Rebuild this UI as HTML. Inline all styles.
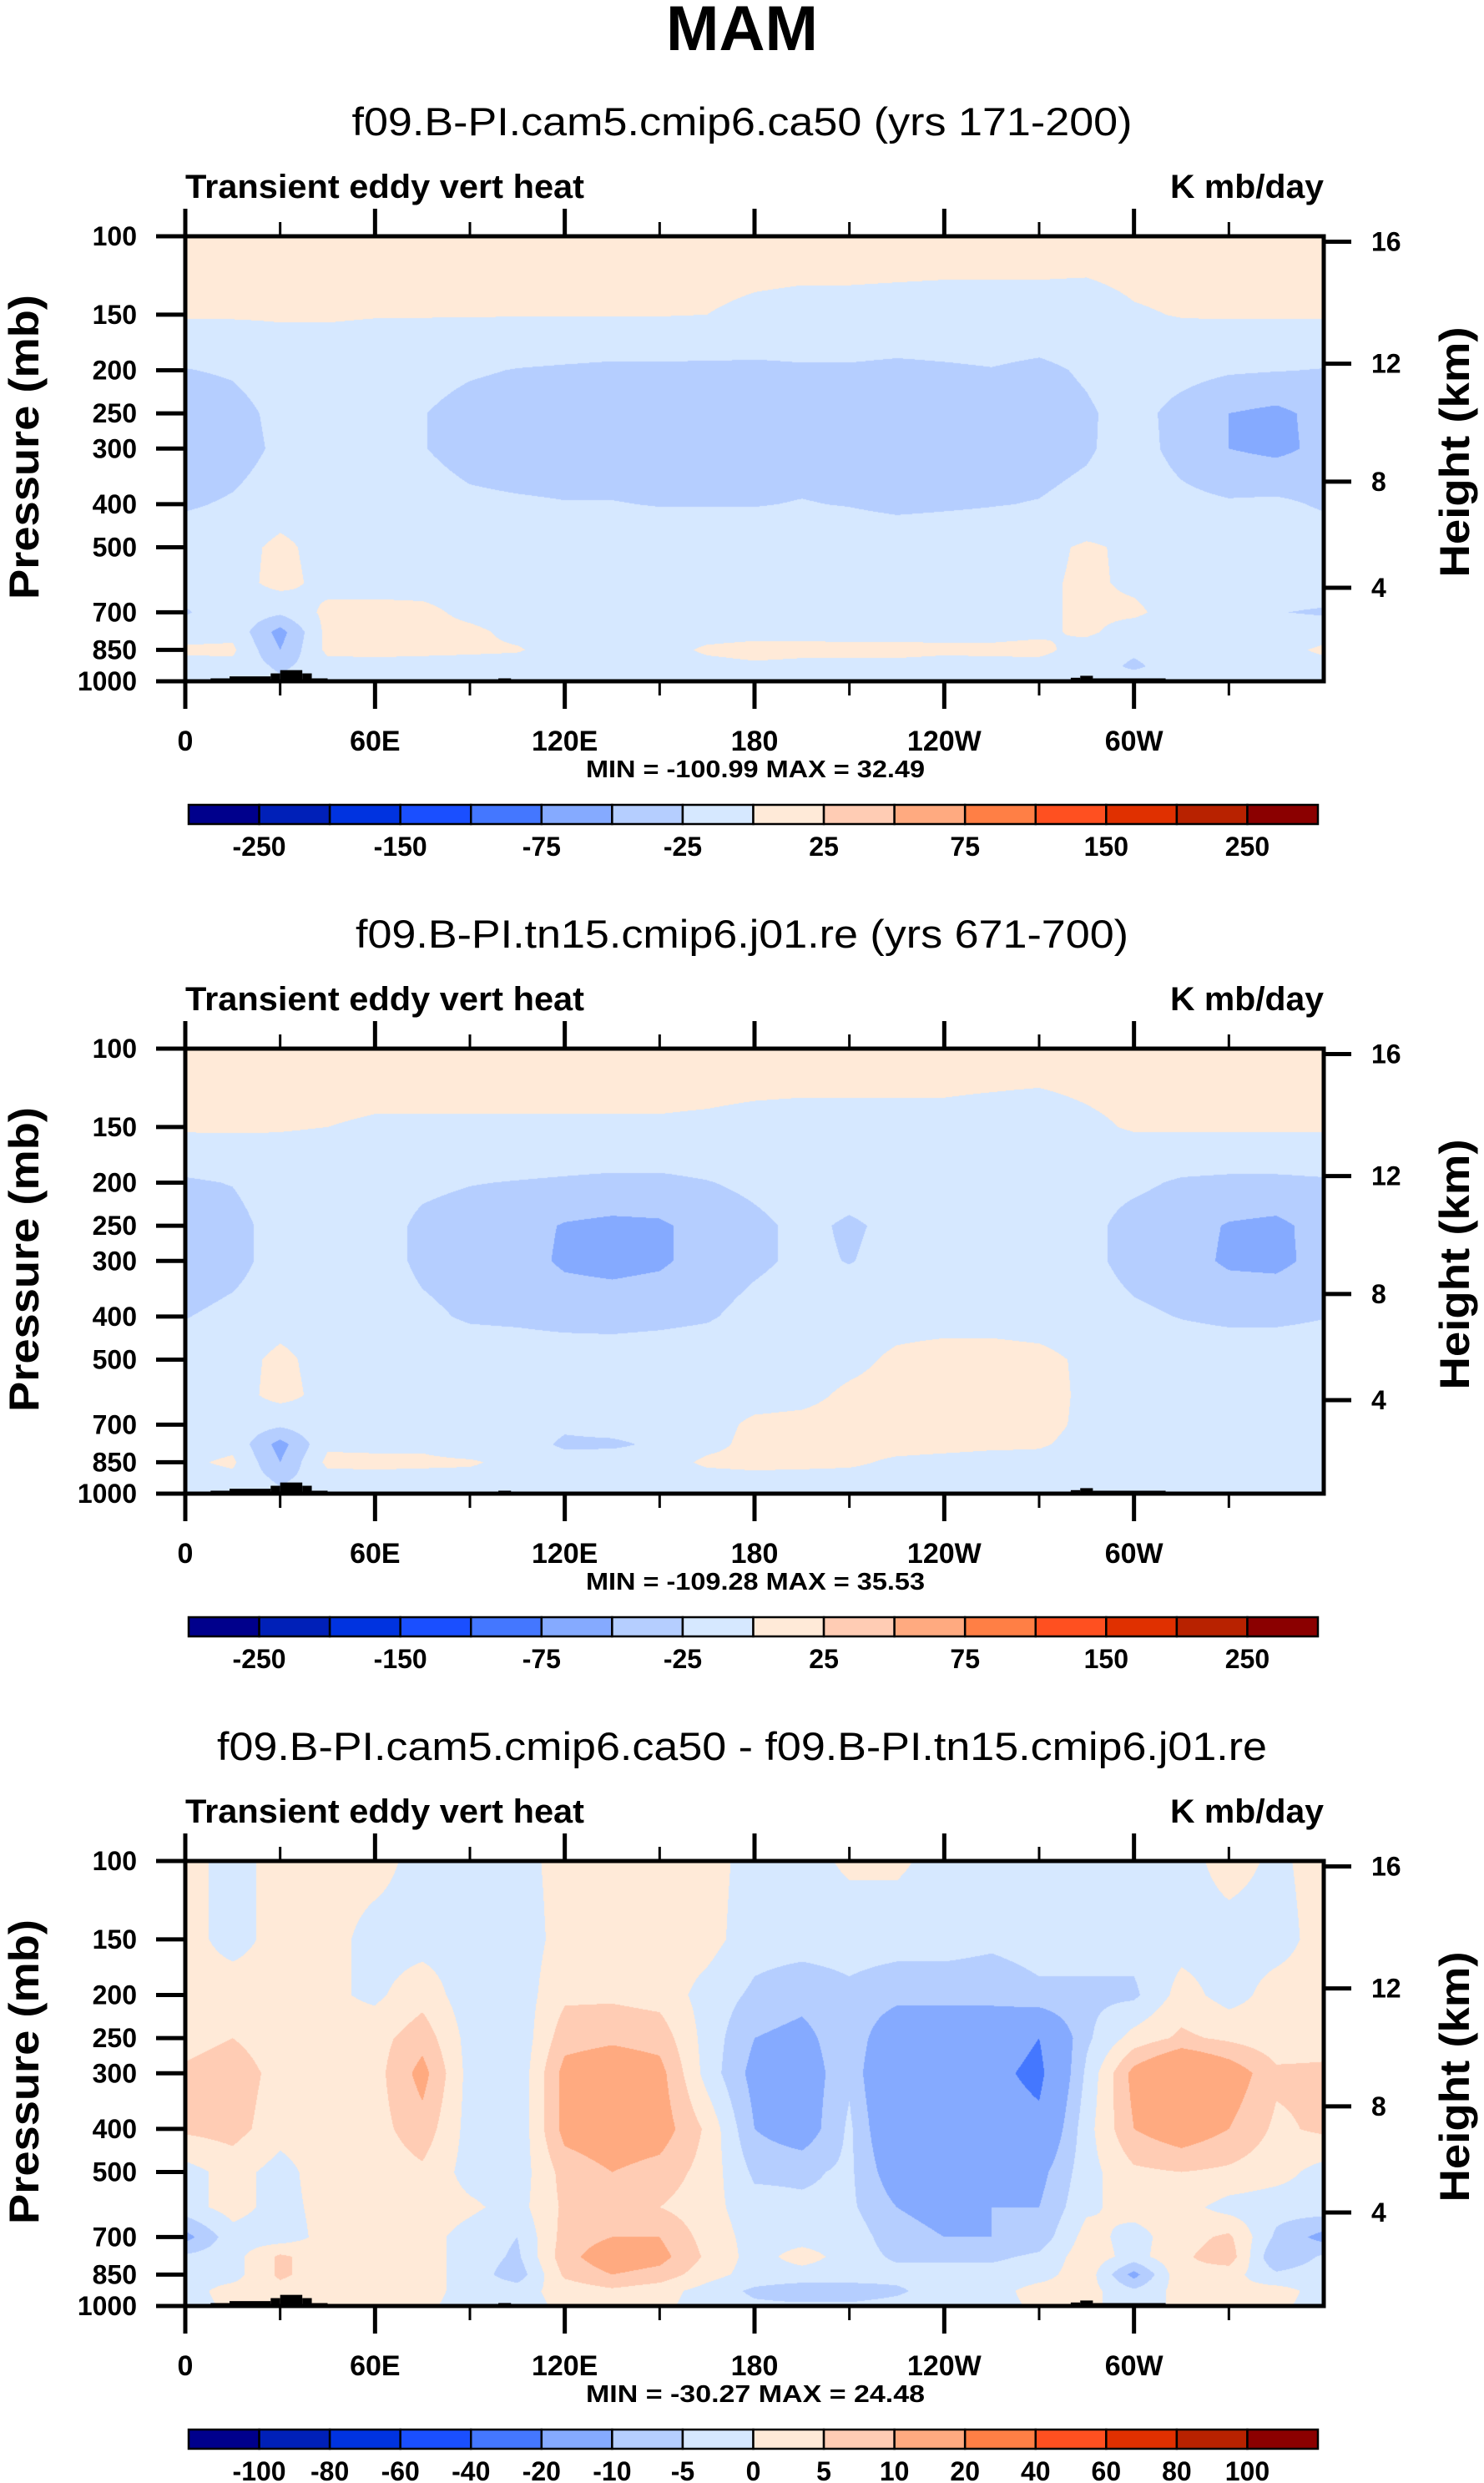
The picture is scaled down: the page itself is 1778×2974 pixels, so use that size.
<!DOCTYPE html>
<html><head><meta charset="utf-8">
<style>
html,body{margin:0;padding:0;background:#fff;}
#wrap{position:relative;width:1778px;height:2974px;overflow:hidden;}
canvas{position:absolute;}
svg{position:absolute;left:0;top:0;}
text{font-family:"Liberation Sans",Arial,sans-serif;fill:#000;}
</style></head>
<body>
<div id="wrap">
<canvas id="c0"></canvas>
<canvas id="c1"></canvas>
<canvas id="c2"></canvas>
<svg id="ov" width="1778" height="2974" xmlns="http://www.w3.org/2000/svg"></svg>
</div>
<script>
// ---------- data ----------
const lons = [0,15,30,45,60,75,90,105,120,135,150,165,180,195,210,225,240,255,270,285,300,315,330,345,360];
const pressures = [100,150,200,250,300,400,500,600,700,775,850,925,1000];
const panelTitles = ["f09.B-PI.cam5.cmip6.ca50 (yrs 171-200)","f09.B-PI.tn15.cmip6.j01.re (yrs 671-700)","f09.B-PI.cam5.cmip6.ca50 - f09.B-PI.tn15.cmip6.j01.re"];
const minMaxLabels = ["MIN = -100.99   MAX =  32.49","MIN = -109.28   MAX =  35.53","MIN = -30.27   MAX =  24.48"];
const levelsAbs = [-250,-200,-150,-100,-75,-50,-25,0,25,50,75,100,150,200,250];
const levelsDiff = [-100,-80,-60,-40,-20,-10,-5,0,5,10,20,40,60,80,100];
const labelsAbs = ["-250","","-150","","-75","","-25","","25","","75","","150","","250"];
const labelsDiff = ["-100","-80","-60","-40","-20","-10","-5","0","5","10","20","40","60","80","100"];
const fillColors = ["#00008c","#0020b8","#0033e0","#1a4fff","#4477ff","#85aaff","#b5ceff","#d6e8ff","#ffead8","#ffccb4","#ffaa80","#ff7f45","#ff5020","#e03000","#b82200","#8b0000"];
const pTicks = [100,150,200,250,300,400,500,700,850,1000];
const lonTicks = [0,60,120,180,240,300];
const lonTickLabels = ["0","60E","120E","180","120W","60W"];
const heightTicks = [4,8,12,16];
// topography: [lon0, lon1, top pressure]
const topo = [[8,14,985],[14,27,975],[27,30,960],[30,37,944],[37,40,960],[40,45,985],[99,103,985],[280,283,982],[283,287,972],[287,310,985]];

const field1 = [
[10,10,10,10,10,10,10,10,10,10,10,10,10,10,10,10,10,10,10,10,10,10,10,10,10],
[2,2,2,2,1,1,1,1,1,1,1,0,-4,-6,-6,-7,-8,-8,-8,-9,-2,1,2,2,2],
[-26,-22,-12,-12,-14,-16,-22,-26,-28,-30,-30,-30,-30,-28,-28,-30,-28,-26,-30,-22,-12,-16,-22,-24,-26],
[-42,-34,-18,-14,-16,-24,-34,-38,-38,-38,-38,-38,-38,-36,-38,-38,-36,-34,-36,-28,-16,-34,-50,-56,-42],
[-44,-36,-20,-14,-16,-24,-34,-38,-38,-38,-38,-36,-36,-34,-36,-36,-34,-34,-34,-28,-14,-34,-50,-56,-44],
[-28,-22,-12,-10,-10,-14,-20,-22,-24,-24,-26,-26,-26,-24,-26,-30,-28,-26,-24,-18,-10,-18,-22,-20,-28],
[-10,-10,6,-10,-10,-10,-10,-10,-10,-10,-10,-10,-10,-10,-10,-10,-10,-10,-6,3,-4,-10,-10,-10,-10],
[-10,-10,8,-8,-10,-10,-10,-10,-10,-10,-10,-10,-10,-10,-10,-10,-10,-8,-4,4,-4,-10,-10,-10,-10],
[-28,-8,-20,6,8,6,-6,-12,-10,-10,-10,-10,-10,-10,-10,-10,-10,-8,-4,4,4,-10,-24,-24,-28],
[-10,-6,-60,8,10,8,5,-6,-10,-10,-10,-10,-8,-6,-8,-8,-6,-6,-4,4,-10,-10,-12,-12,-10],
[4,4,-50,6,8,6,4,2,-10,-10,-10,4,8,6,6,6,4,4,6,-10,-20,-10,-10,-8,4],
[-8,-6,-30,-10,-10,-10,-10,-10,-10,-10,-10,-8,-4,-6,-6,-6,-8,-6,-8,-10,-30,-10,-10,-6,-8],
[-10,-10,-20,-10,-10,-10,-10,-10,-10,-10,-10,-10,-10,-10,-10,-10,-10,-10,-10,-10,-10,-10,-10,-10,-10]
];
const field2 = [
[10,10,10,10,10,10,10,10,10,10,10,10,10,10,10,10,10,10,10,10,10,10,10,10,10],
[3,3,1,0,-2,-2,-2,-2,-2,-2,-2,-3,-5,-6,-6,-6,-6,-8,-10,-4,2,3,3,3,3],
[-28,-24,-10,-10,-14,-20,-24,-26,-28,-30,-30,-26,-20,-14,-16,-14,-12,-10,-12,-16,-20,-28,-30,-30,-28],
[-40,-34,-14,-10,-14,-30,-36,-40,-52,-56,-54,-40,-30,-20,-28,-20,-14,-12,-12,-18,-34,-40,-52,-56,-40],
[-42,-34,-14,-10,-14,-30,-36,-40,-54,-58,-54,-40,-30,-20,-26,-18,-14,-12,-12,-18,-34,-40,-54,-56,-42],
[-26,-18,-10,-10,-12,-20,-28,-30,-34,-34,-32,-28,-16,-10,-10,-8,-8,-8,-10,-12,-20,-26,-30,-30,-26],
[-10,-10,6,-10,-10,-10,-10,-10,-10,-12,-10,-8,-8,-10,-6,4,8,8,6,-4,-8,-10,-10,-10,-10],
[-10,-10,8,-8,-10,-10,-10,-10,-10,-10,-10,-8,-8,-6,4,8,8,8,8,-4,-8,-8,-10,-10,-10],
[-12,-8,-20,-6,-8,-10,-12,-10,-20,-14,-10,-8,4,6,8,8,8,8,6,-4,-8,-6,-10,-10,-12],
[-10,-6,-60,-4,-8,-6,-20,-10,-30,-30,-20,-6,6,8,8,8,6,4,2,-6,-8,-10,-10,-10,-10],
[-4,4,-50,6,8,6,4,-10,-12,-10,-10,4,6,6,4,-4,-6,-8,-6,-10,-20,-10,-10,-8,-4],
[-8,-6,-30,-10,-10,-10,-10,-10,-10,-10,-10,-8,-6,-8,-8,-8,-8,-8,-8,-10,-20,-10,-10,-8,-8],
[-10,-10,-20,-10,-10,-10,-10,-10,-10,-10,-10,-10,-10,-10,-10,-10,-10,-10,-10,-10,-10,-10,-10,-10,-10]
];
const field3 = [
[2,-2,2,2,2,-2,-2,-2,2,2,2,2,-2,-2,1,1,-2,-2,-2,-2,-2,-2,2,-1,2],
[2,-2,2,2,-2,-2,-2,-3,2,3,3,2,-3,-3,-3,-3,-3,-4,-3,-3,-3,-2,-2,-2,2],
[2,3,2,1,-1,3,-3,-3,4,4,3,-2,-6,-8,-6,-8,-8,-8,-6,-6,-6,2,-2,2,2],
[3,5,2,2,3,8,-2,-4,8,9,8,-2,-10,-12,-6,-16,-16,-16,-20,-6,2,6,4,2,3],
[6,8,3,2,3,12,-2,-4,12,14,12,-2,-12,-14,-6,-20,-18,-18,-22,-4,12,20,14,6,6],
[6,7,2,3,3,8,-2,-4,12,14,13,4,-10,-14,-4,-18,-16,-16,-18,-2,10,14,10,4,6],
[-2,2,-2,3,2,4,-2,-3,7,10,8,3,-6,-6,-4,-14,-14,-12,-12,-2,4,5,4,2,-2],
[-2,2,-2,2,3,3,1,-2,6,6,5,2,-3,-4,-4,-10,-12,-10,-10,-1,2,2,-2,-3,-2],
[-12,-2,-3,2,2,2,-2,-5,7,10,10,3,-2,-2,-2,-8,-10,-10,-8,2,-2,3,6,-6,-12],
[-4,-2,6,2,2,2,-2,-6,8,14,12,4,-2,2,-2,-6,-6,-6,-4,3,-2,4,8,-10,-4],
[-2,-2,6,2,2,2,-2,-8,6,10,8,2,-2,-2,-2,-3,-3,-3,-2,3,-12,4,2,-4,-2],
[-2,2,3,2,2,2,-2,-2,2,4,2,-2,-6,-8,-8,-6,-2,-2,2,2,-4,2,1,2,-2],
[-2,1,2,2,2,1,-2,-2,1,2,1,-2,-4,-4,-4,-3,-2,-2,1,1,-2,1,1,1,-2]
];
const fields = [field1, field2, field3];
const panelLevels = [levelsAbs, levelsAbs, levelsDiff];
const panelLevelLabels = [labelsAbs, labelsAbs, labelsDiff];
const titleWidths = [935, 926, 1258];

// ---------- geometry ----------
const L = 222, R = 1586, PH = 533;
const offsets = [0, 973, 1946];
const NS = "http://www.w3.org/2000/svg";
const svg = document.getElementById('ov');
function xOf(lon){ return L + (lon/360)*(R-L); }
function yOf(p, T){ return T + (Math.log10(p)-2)*PH; }
function el(tag, attrs, parent){
  const e = document.createElementNS(NS, tag);
  for (const k in attrs) e.setAttribute(k, attrs[k]);
  (parent||svg).appendChild(e);
  return e;
}
function txt(str, attrs, parent){ const t = el('text', attrs, parent); t.textContent = str; return t; }
function pFromZ(zkm){
  const z = zkm*1000;
  if (z <= 11000) return 1013.25*Math.pow(1-2.25577e-5*z, 5.25588);
  return 226.32*Math.exp(-(z-11000)/6341.6);
}

const mt = txt("MAM", {x:889, y:60, 'text-anchor':'middle', 'font-size':76, 'font-weight':'bold', textLength:182, lengthAdjust:'spacingAndGlyphs'});
 

function classify(v, levels){ let i=0; while(i<levels.length && v>=levels[i]) i++; return i; }

fields.forEach((field, pi) => {
  const off = offsets[pi], T = 283 + off, B = T + PH;
  const levels = panelLevels[pi];
  const cv = document.getElementById('c'+pi);
  const W = R-L;
  cv.width = W; cv.height = PH;
  cv.style.left = L+'px'; cv.style.top = T+'px';
  const ctx = cv.getContext('2d');
  const img = ctx.createImageData(W, PH);
  const rgb = fillColors.map(c => [parseInt(c.substr(1,2),16),parseInt(c.substr(3,2),16),parseInt(c.substr(5,2),16)]);
  const logp = pressures.map(p => Math.log10(p));
  for (let py=0; py<PH; py++){
    const lp = 2 + (py+0.5)/PH;
    let r=0; while(r<logp.length-2 && lp>logp[r+1]) r++;
    let fy = (lp-logp[r])/(logp[r+1]-logp[r]); fy=Math.max(0,Math.min(1,fy));
    for (let px=0; px<W; px++){
      const lon = (px+0.5)/W*360;
      let c=0; while(c<lons.length-2 && lon>lons[c+1]) c++;
      const fx = (lon-lons[c])/(lons[c+1]-lons[c]);
      const v = (1-fy)*((1-fx)*field[r][c]+fx*field[r][c+1]) + fy*((1-fx)*field[r+1][c]+fx*field[r+1][c+1]);
      const col = rgb[classify(v, levels)];
      const k = (py*W+px)*4;
      img.data[k]=col[0]; img.data[k+1]=col[1]; img.data[k+2]=col[2]; img.data[k+3]=255;
    }
  }
  ctx.putImageData(img,0,0);

  const g = el('g', {});
   

  topo.forEach(t => {
    const r = el('rect', {x:xOf(t[0]), y:yOf(t[2],T), width:xOf(t[1])-xOf(t[0]), height:B-yOf(t[2],T), fill:'#000'}, g);
     
  });

  const st = txt(panelTitles[pi], {x:889, y:162+off, 'text-anchor':'middle', 'font-size':47, textLength:titleWidths[pi], lengthAdjust:'spacingAndGlyphs'}, g);
   
  const lt = txt("Transient eddy vert heat", {x:222, y:237+off, 'font-size':40, 'font-weight':'bold', textLength:478, lengthAdjust:'spacingAndGlyphs'}, g);
   
  const ut = txt("K mb/day", {x:1402, y:237+off, 'font-size':40, 'font-weight':'bold', textLength:184, lengthAdjust:'spacingAndGlyphs'}, g);
   

  const fr = el('rect', {x:L, y:T, width:R-L, height:PH, fill:'none', stroke:'#000', 'stroke-width':5}, g);
   

  for (let lon=0; lon<=330; lon+=30){
    const major = lon%60===0, len = major?33:17, x=xOf(lon);
    const tb = el('line', {x1:x, y1:B, x2:x, y2:B+len, stroke:'#000', 'stroke-width':major?5:3}, g);
     
    const tt = el('line', {x1:x, y1:T, x2:x, y2:T-len, stroke:'#000', 'stroke-width':major?5:3}, g);
     
  }
  lonTicks.forEach((lon,i) => {
    const t = txt(lonTickLabels[i], {x:xOf(lon), y:899+off, 'text-anchor':'middle', 'font-size':34, 'font-weight':'bold'}, g);
     
  });
  pTicks.forEach(p => {
    const y = yOf(p,T);
    const tk = el('line', {x1:L-35, y1:y, x2:L, y2:y, stroke:'#000', 'stroke-width':5}, g);
     
    const t = txt(String(p), {x:164, y:y+11, 'text-anchor':'end', 'font-size':32, 'font-weight':'bold'}, g);
     
  });
  heightTicks.forEach(z => {
    const y = yOf(pFromZ(z),T);
    const tk = el('line', {x1:R, y1:y, x2:R+33, y2:y, stroke:'#000', 'stroke-width':5}, g);
     
    const t = txt(String(z), {x:1643, y:y+11, 'font-size':32, 'font-weight':'bold'}, g);
     
  });
  const cy = T + PH/2;
  const yt = txt("Pressure (mb)", {x:0, y:0, 'text-anchor':'middle', 'font-size':50, 'font-weight':'bold', textLength:365, lengthAdjust:'spacingAndGlyphs', transform:`translate(46,${cy-14}) rotate(-90)`}, g);
   
  const ht = txt("Height (km)", {x:0, y:0, 'text-anchor':'middle', 'font-size':50, 'font-weight':'bold', textLength:300, lengthAdjust:'spacingAndGlyphs', transform:`translate(1760,${cy-8}) rotate(-90)`}, g);
   

  const mm = txt(minMaxLabels[pi], {x:905, y:931+off, 'text-anchor':'middle', 'font-size':29, 'font-weight':'bold', 'xml:space':'preserve', textLength:406, lengthAdjust:'spacingAndGlyphs'}, g);
   

  const cbL = 226, cbR = 1579, cbT = 964+off, cbH = 23, bw = (cbR-cbL)/fillColors.length;
  fillColors.forEach((c,i) => {
    const b = el('rect', {x:cbL+i*bw, y:cbT, width:bw, height:cbH, fill:c, stroke:'#000', 'stroke-width':2.5}, g);
     
  });
  panelLevelLabels[pi].forEach((s,i) => {
    if (!s) return;
    const t = txt(s, {x:cbL+(i+1)*bw, y:1025+off, 'text-anchor':'middle', 'font-size':32, 'font-weight':'bold'}, g);
     
  });
});
</script>
</body></html>
